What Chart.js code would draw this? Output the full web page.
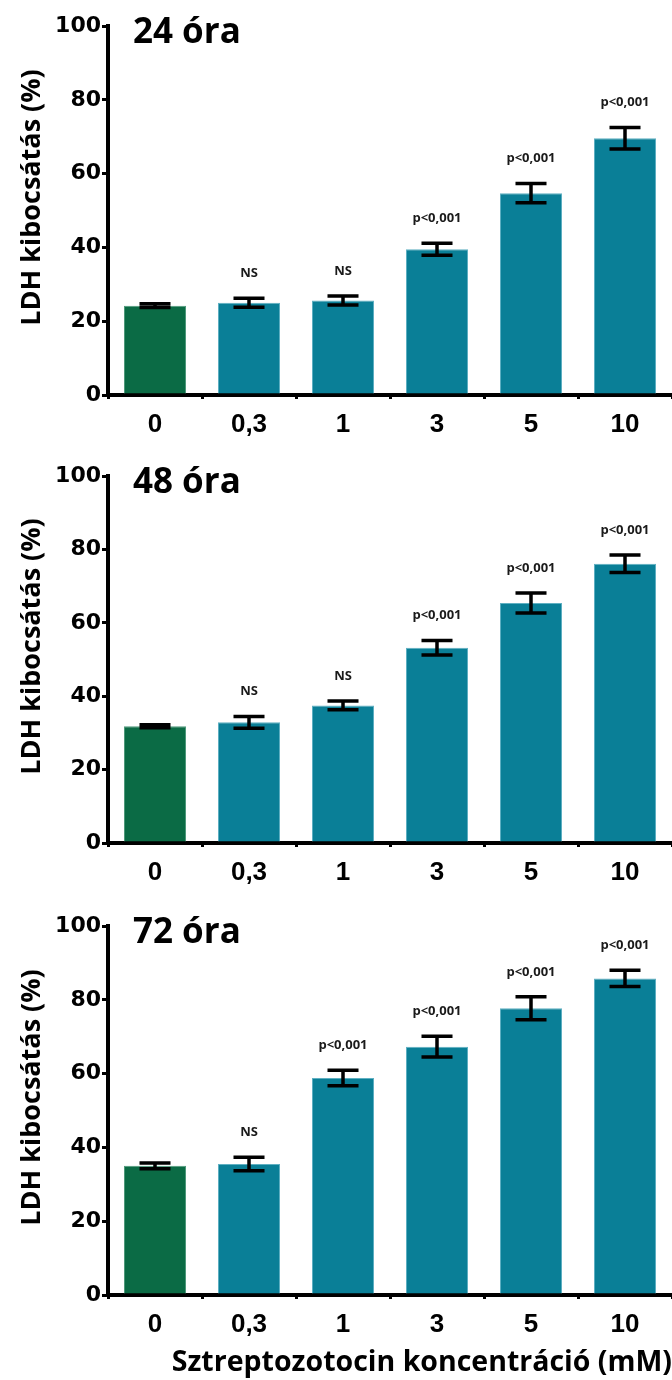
<!DOCTYPE html>
<html>
<head>
<meta charset="utf-8">
<script src="https://cdn.jsdelivr.net/npm/chart.js@4"></script>
<style>
  body { margin: 0; background: #fff; }
  canvas { display: block; }
</style>
</head>
<body>
<canvas id="c24" width="672" height="450"></canvas>
<canvas id="c48" width="672" height="450"></canvas>
<canvas id="c72" width="672" height="480"></canvas>
<script>
// x categories: streptozotocin concentration (mM)
const concentrations = ['0', '0,3', '1', '3', '5', '10'];
const yTicks = [0, 20, 40, 60, 80, 100];

// 24 h
const ldh24 = [24.2, 25.0, 25.6, 39.5, 54.7, 69.6];
const sem24 = [0.5, 1.2, 1.2, 1.6, 2.6, 2.9];
const sig24 = ['', 'NS', 'NS', 'p<0,001', 'p<0,001', 'p<0,001'];

// 48 h
const ldh48 = [31.8, 32.9, 37.5, 53.2, 65.4, 76.1];
const sem48 = [0.4, 1.6, 1.2, 2.0, 2.7, 2.4];
const sig48 = ['', 'NS', 'NS', 'p<0,001', 'p<0,001', 'p<0,001'];

// 72 h
const ldh72 = [35.0, 35.5, 58.8, 67.3, 77.7, 85.8];
const sem72 = [0.8, 1.8, 2.1, 2.8, 3.1, 2.2];
const sig72 = ['', 'NS', 'p<0,001', 'p<0,001', 'p<0,001', 'p<0,001'];

const green = '#0b6b45';
const teal = '#0a7f97';

// error bars + significance labels
const errorBars = {
  id: 'errorBars',
  afterDatasetsDraw(chart, args, opts) {
    const ctx = chart.ctx;
    const y = chart.scales.y;
    const meta = chart.getDatasetMeta(0);
    const vals = chart.data.datasets[0].data;
    ctx.save();
    ctx.strokeStyle = '#000';
    ctx.lineWidth = 3.5;
    meta.data.forEach((bar, i) => {
      const top = y.getPixelForValue(vals[i] + opts.errors[i]);
      const bot = y.getPixelForValue(vals[i] - opts.errors[i]);
      const half = bar.width / 4;
      ctx.beginPath();
      ctx.moveTo(bar.x, top); ctx.lineTo(bar.x, bot);
      ctx.moveTo(bar.x - half, top); ctx.lineTo(bar.x + half, top);
      ctx.moveTo(bar.x - half, bot); ctx.lineTo(bar.x + half, bot);
      ctx.stroke();
      if (opts.labels[i]) {
        ctx.fillStyle = '#1a1a1a';
        ctx.font = 'bold 13px "Open Sans"';
        ctx.textAlign = 'center';
        ctx.textBaseline = 'middle';
        ctx.fillText(opts.labels[i], bar.x, top - 25);
      }
    });
    ctx.restore();
  }
};

// panel title and y axis title
const panelText = {
  id: 'panelText',
  afterDraw(chart, args, opts) {
    const ctx = chart.ctx;
    const area = chart.chartArea;
    ctx.save();
    ctx.fillStyle = '#000';
    ctx.font = 'bold 35px "Open Sans"';
    ctx.textAlign = 'left';
    ctx.textBaseline = 'alphabetic';
    ctx.fillText(opts.title, area.left + 25, area.top + 17);

    ctx.translate(32, (area.top + area.bottom) / 2 - 13);
    ctx.rotate(-Math.PI / 2);
    ctx.font = 'bold 27px "Open Sans"';
    ctx.textAlign = 'center';
    ctx.textBaseline = 'middle';
    ctx.fillText('LDH kibocsátás (%)', 0, 0);
    ctx.restore();
  }
};

function makeChart(id, title, values, errors, labels, plotH, xTitle) {
  const canvas = document.getElementById(id);
  const xHeight = canvas.height - 26 - plotH;
  new Chart(canvas, {
    type: 'bar',
    data: {
      labels: concentrations,
      datasets: [{
        data: values,
        backgroundColor: concentrations.map((c, i) => i === 0 ? green : teal),
        borderColor: concentrations.map((c, i) => i === 0 ? '#4f9a7c' : '#5fb0c2'),
        borderWidth: 1,
        barPercentage: 0.66,
        categoryPercentage: 1
      }]
    },
    options: {
      responsive: false,
      animation: false,
      devicePixelRatio: 1,
      layout: { padding: { top: 26, left: 0, right: 0, bottom: 0 } },
      plugins: {
        legend: { display: false },
        tooltip: { enabled: false },
        errorBars: { errors: errors, labels: labels },
        panelText: { title: title }
      },
      scales: {
        x: {
          grid: { display: true, drawOnChartArea: false, drawTicks: true, tickLength: 4, color: '#000', lineWidth: 3 },
          border: { display: true, color: '#000', width: 4 },
          ticks: { color: '#000', padding: 10, font: { family: '"Liberation Sans"', weight: 'bold', size: 26 } },
          title: {
            display: !!xTitle,
            text: xTitle || '',
            align: 'end',
            color: '#000',
            padding: { top: 0, bottom: 0 },
            font: { family: '"Open Sans"', weight: 'bold', size: 28.5 }
          },
          afterFit: s => { s.height = xHeight; }
        },
        y: {
          min: 0,
          max: 100,
          afterBuildTicks: s => { s.ticks = yTicks.map(v => ({ value: v })); },
          grid: { display: true, drawOnChartArea: false, drawTicks: true, tickLength: 6, color: '#000', lineWidth: 3 },
          border: { display: true, color: '#000', width: 4 },
          ticks: { color: '#000', padding: 1, font: { family: '"DejaVu Sans"', weight: 'bold', size: 22 } },
          afterFit: s => { s.width = 108; }
        }
      }
    },
    plugins: [errorBars, panelText]
  });
}

makeChart('c24', '24 óra', ldh24, sem24, sig24, 369, null);
makeChart('c48', '48 óra', ldh48, sem48, sig48, 367, null);
makeChart('c72', '72 óra', ldh72, sem72, sig72, 369, 'Sztreptozotocin koncentráció (mM)');
</script>
</body>
</html>
